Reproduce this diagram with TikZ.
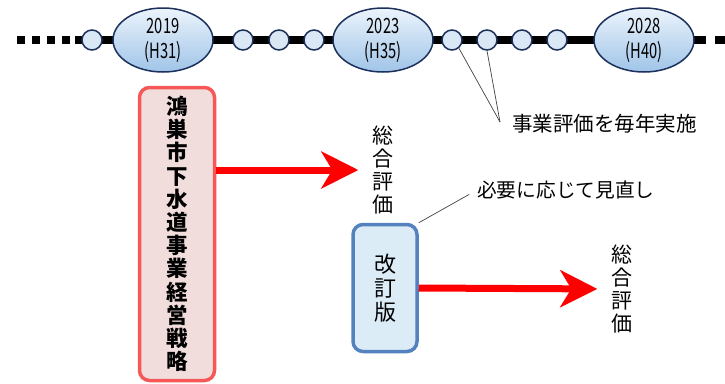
\documentclass[tikz,border=0pt]{standalone}
\usepackage{fontspec}
\setmainfont{Noto Sans CJK JP}
\usepackage{graphicx}
\usetikzlibrary{arrows.meta,positioning,shapes.geometric,backgrounds}

\definecolor{tlnavy}{RGB}{28,48,92}
\definecolor{tllight}{RGB}{236,244,252}
\definecolor{tlblue}{RGB}{160,196,232}
\definecolor{tlfill}{RGB}{218,232,246}
\definecolor{boxred}{RGB}{246,88,88}
\definecolor{boxpink}{RGB}{242,221,221}
\definecolor{boxblue}{RGB}{84,130,190}
\definecolor{boxcyan}{RGB}{219,236,246}

\newcommand{\narrow}[1]{\scalebox{0.7}[1]{#1}}

\tikzset{
	yearnode/.style={ellipse, draw=tlnavy, line width=1.5pt, top color=tllight, bottom color=tlblue, minimum width=100pt, minimum height=64pt, inner sep=0pt, align=center, font=\fontsize{21}{25}\selectfont},
	ticknode/.style={circle, draw=tlnavy, line width=1.5pt, fill=tlfill, minimum size=20pt, inner sep=0pt},
	planbox/.style={rectangle, rounded corners=10pt, line width=3.5pt, inner sep=0pt, align=center},
	vtext/.style={inner sep=0pt, align=center, font=\fontsize{21}{23}\selectfont},
	note/.style={inner sep=0pt, anchor=west},
	redarrow/.style={red, line width=7pt, -{Stealth[length=37pt,width=37pt,inset=11pt]}},
	callout/.style={draw=black!75, line width=0.7pt}
}

\begin{document}
\begin{tikzpicture}[x=1pt,y=-1pt]
	\useasboundingbox (0,0) rectangle (725,383);

	% timeline
	\node[yearnode] at (163,40) (Y2019){\narrow{2019}\\\narrow{(H31)}};
	\node[yearnode, right of=Y2019, node distance=220pt](Y2023){\narrow{2023}\\\narrow{(H35)}};
	\node[yearnode, right of=Y2023, node distance=261pt](Y2028){\narrow{2028}\\\narrow{(H40)}};

	\node[ticknode] at (92,40) (C0){};
	\node[ticknode, right of=Y2019, node distance=80pt](C1){};
	\node[ticknode, right of=C1, node distance=36pt](C2){};
	\node[ticknode, right of=C2, node distance=35pt](C3){};
	\node[ticknode, right of=Y2023, node distance=69pt](C4){};
	\node[ticknode, right of=C4, node distance=35pt](C5){};
	\node[ticknode, right of=C5, node distance=35pt](C6){};
	\node[ticknode, right of=C6, node distance=35pt](C7){};

	\coordinate (T0) at (17,40);
	\coordinate (T1) at (75,40);
	\coordinate (T2) at (706,40);
	\coordinate (T3) at (715,40);
	\coordinate (T4) at (725,40);

	\begin{scope}[on background layer]
		\draw[line width=8pt, dash pattern=on 8pt off 7pt] (T0) -- (T1);
		\draw[line width=8pt] (T1) -- (T2);
		\draw[line width=8pt] (T3) -- (T4);
	\end{scope}

	% yearly evaluation
	\node[note, font=\fontsize{20.5}{24}\selectfont] at (512,124) (NT){事業評価を毎年実施};
	\coordinate (P1) at (500,122);
	\draw[callout] (C4.-50) -- (P1);
	\draw[callout] (C5.-90) -- (P1);

	% strategy
	\node[planbox, draw=boxred, fill=boxpink, minimum width=75pt, minimum height=293pt] at (177,234) (PLAN){};
	\node[vtext, font=\fontsize{21.5}{23.2}\selectfont\bfseries] at (PLAN) (PLANT){鴻\\巣\\市\\下\\水\\道\\事\\業\\経\\営\\戦\\略};

	\node[vtext] at (383,170) (SG1){総\\合\\評\\価};
	\draw[redarrow, shorten >=14pt] (PLAN.east |- SG1) -- (SG1.west);

	% revision
	\node[planbox, draw=boxblue, fill=boxcyan, minimum width=64pt, minimum height=127pt] at (385,288) (REV){};
	\node[vtext, font=\fontsize{22}{24}\selectfont] at (REV) (REVT){改\\訂\\版};

	\node[note, font=\fontsize{19.7}{24}\selectfont] at (477,190) (NM){必要に応じて見直し};
	\draw[callout, shorten >=9pt] (REV.north east) -- (NM.west);

	\node[vtext] at (622,289) (SG2){総\\合\\評\\価};
	\draw[redarrow, shorten >=14pt] (REV.east) -- (SG2.west);
\end{tikzpicture}
\end{document}
